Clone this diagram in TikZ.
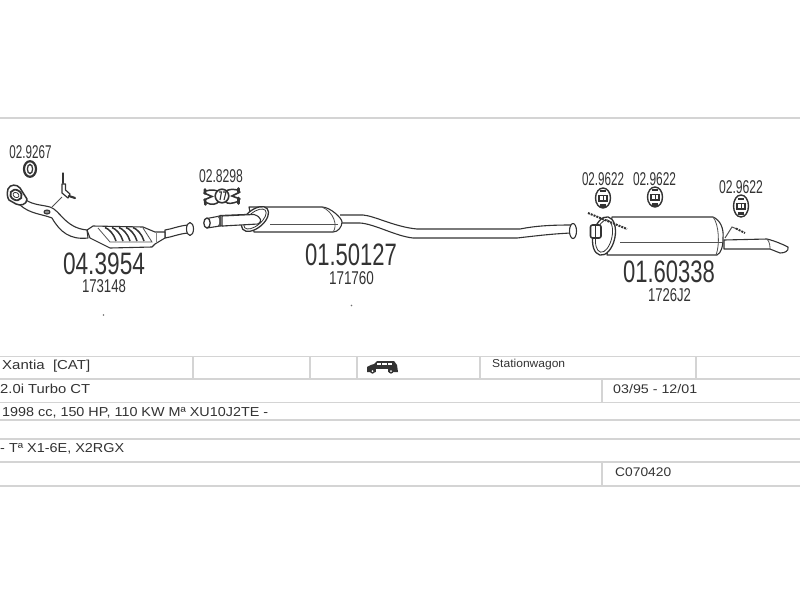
\documentclass[tikz,border=0pt]{standalone}
\usepackage{fontspec}
\setmainfont{Liberation Sans}
\newcommand{\fitw}[3]{\resizebox{#1pt}{\height}{\fontsize{#2}{#2}\selectfont #3}}
\definecolor{ink}{HTML}{333333}
\definecolor{rule}{HTML}{D4D4D4}
\tikzset{
  rulel/.style={draw=rule,line width=1.8pt},
  rulet/.style={draw=rule,line width=1.2pt},
  lab/.style={inner sep=0pt,anchor=base,text=ink},
  cell/.style={inner sep=0pt,anchor=base west,text=ink},
  pipe/.style={draw=ink,line width=1.1pt,fill=white,line join=round},
  thin pipe/.style={draw=ink!85,line width=0.8pt},
  dark/.style={draw=ink,line width=1.6pt,line cap=round},
  rod/.style={draw=ink,line width=2pt,dash pattern=on 2pt off 1pt},
  rubber/.style={draw=ink,line width=1.4pt,fill=white},
  speck/.style={fill=ink!70,draw=none}
}
\begin{document}
\begin{tikzpicture}[x=1pt,y=-1pt]
\useasboundingbox (0,0) rectangle (800,600);
\fill[white] (0,0) rectangle (800,600);

% frame and table rules
\draw[rule,line width=2pt] (0,118) -- (800,118);
\foreach \yy in {356.5,402.5,420,462,486}{\draw[rulel] (0,\yy) -- (800,\yy);}
\foreach \yy in {379,439}{\draw[rulet] (0,\yy) -- (800,\yy);}
\foreach \xx in {193,310,357,480,696}{\draw[rulet] (\xx,356.5) -- (\xx,379);}
\draw[rulet] (602,379) -- (602,402.5);
\draw[rulet] (602,462) -- (602,486);

% table text
\node[cell] (t1) at (2,369.5) {\fitw{88}{13}{Xantia\ \ [CAT]}};
\node[cell] (t2) at (0,393) {\fitw{90}{13}{2.0i Turbo CT}};
\node[cell] (t3) at (2,416) {\fitw{266}{13}{1998 cc, 150 HP, 110 KW Mª XU10J2TE -}};
\node[cell] (t4) at (0,452.5) {\fitw{124}{13}{- Tª X1-6E, X2RGX}};
\node[cell] (t5) at (492,367.5) {\fitw{73}{11.5}{Stationwagon}};
\node[cell] (t6) at (613,393) {\fitw{84}{12.5}{03/95 - 12/01}};
\node[cell] (t7) at (615,476) {\fitw{56}{12.5}{C070420}};

% van icon
\fill[ink] (367,372) -- (367,367) .. controls (369,365) and (372,365) .. (374,364) -- (377,361) -- (394,361) -- (397,365) -- (398,372) -- cycle;
\fill[white] (376.5,362.5) rectangle (381,365);
\fill[white] (382,362.5) rectangle (386.5,365);
\fill[white] (387.5,362.5) rectangle (392,365);
\fill[white] (376,368.5) rectangle (388,373);
\fill[ink] (372.5,371) circle (2.6);
\fill[ink] (391,371) circle (2.6);
\fill[white] (372.5,371) circle (1);
\fill[white] (391,371) circle (1);

% ---------- front part: gasket, flange, pipe, catalyst
\draw[rubber,line width=2.2pt] (30,169) ellipse (6 and 7.8);
\draw[ink,line width=1.3pt] (30,169) ellipse (2.6 and 4.6);

% exhaust pipe to catalyst
\draw[pipe] (26,200) .. controls (33,205) and (43,205) .. (50,207)
  .. controls (60,210) and (65,228) .. (87,230) -- (88,238)
  .. controls (70,240) and (60,232) .. (52,218)
  .. controls (42,214) and (30,214) .. (20,205) -- cycle;
\draw[pipe,fill=ink!55] (47,212) ellipse (3 and 2);
% flange
\draw[pipe,line width=1.5pt] (8,189) .. controls (10,184) and (17,184) .. (20,188)
  -- (27,199) .. controls (27,205) and (20,206) .. (16,204) -- (9,200) .. controls (7,197) and (7,193) .. (8,189) -- cycle;
\draw[ink,line width=1.8pt,rotate around={-30:(16,195)}] (16,195) ellipse (6 and 5);
\draw[ink,line width=0.8pt,rotate around={-30:(16,195)}] (16,195) ellipse (3.2 and 2.4);

% sensor
\draw[thin pipe] (52,207) -- (62,197);
\draw[dark,line width=2.8pt] (63,173.5) -- (63,183);
\draw[pipe,line width=1.2pt] (62,184) -- (62,193) -- (68,198) -- (70,194) -- (65.5,190) -- (65.5,184) -- cycle;
\draw[dark,line width=2.2pt] (69,196) -- (75,198);

% catalyst
\draw[pipe] (165,230) .. controls (172,229) and (178,226) .. (188,225) -- (188,233) .. controls (178,234) and (172,237) .. (165,238) -- cycle;
\draw[pipe] (190,229) ellipse (3.5 and 6.5);
\draw[pipe] (87,230) -- (93,226) -- (143,227) -- (155,232) -- (165,232) -- (165,238) -- (155,244) -- (152,247) -- (110,248) -- (90,238) -- cycle;
\draw[thin pipe] (98,228) -- (110,242) -- (152,242) -- (143,228);
\foreach \xx in {105,112,119,126,133}{
  \draw[ink,line width=1.5pt] (\xx,227.5) .. controls (\xx+4,229) and (\xx+9,234) .. (\xx+11,241);
}
\draw[ink!60,line width=0.8pt] (156,232) -- (156,243);

% ---------- clamp
\draw[ink,line width=1.5pt] (206,191) .. controls (212,189) and (216,190) .. (219,192);
\draw[ink,line width=1.5pt] (225,192) .. controls (228,189) and (232,189) .. (238,190);
\draw[ink,line width=1.5pt] (206,202.5) .. controls (212,205.5) and (216,204.5) .. (219,201.5);
\draw[ink,line width=1.5pt] (225,201.5) .. controls (228,204.5) and (232,203.5) .. (238,201.5);
\draw[dark,line width=2.6pt] (205,189.5) -- (205,193.5) (205,199.5) -- (205.5,204.5);
\draw[dark,line width=2.6pt] (238.5,188.5) -- (238.5,192) (238.5,198) -- (238.5,203.5);
\draw[dark,line width=1.6pt] (204,193) -- (212,196.5) -- (204,200);
\draw[dark,line width=1.6pt] (240,192) -- (232,196) -- (240,199);
\draw[rubber,line width=1.6pt] (222,196) circle (6.8);
\draw[ink,line width=1.1pt] (219,192) -- (221.5,192) -- (220,200) (223,192) -- (226,192) -- (224,200);

% ---------- middle pipe and silencer
\draw[pipe] (340,215) -- (363,215) .. controls (375,216) and (395,227) .. (417,229)
  -- (520,229) .. controls (535,226) and (550,225) .. (571,225)
  -- (571,233) .. controls (550,234) and (535,236) .. (517,238)
  -- (413,238) .. controls (395,236) and (375,224) .. (360,223) -- (340,223);
\draw[pipe] (573,231) ellipse (3.5 and 7.5);
\draw[pipe] (220,215.5) -- (258,214) -- (258,223) -- (220,226) -- cycle;
\draw[pipe] (207,218.5) -- (220,216) -- (220,226) -- (207,228) -- cycle;
\draw[pipe,line width=1.3pt] (207,223) ellipse (3.2 and 5);
\draw[thin pipe,line width=1.1pt] (218,216) .. controls (221,219) and (221,224) .. (218,226.5);
\draw[pipe] (249,207) -- (322,207) .. controls (330,207) and (342,218) .. (342,222)
  .. controls (342,227) and (338,232) .. (333,232) -- (254,232) -- cycle;
\draw[thin pipe] (270,224) -- (338,224);
\draw[thin pipe] (322,207) .. controls (334,212) and (338,226) .. (333,232);
\draw[pipe,line width=1.3pt,rotate around={40:(255,219)}] (255,219) ellipse (16 and 9);
\draw[pipe,line width=0.8pt,fill=none,rotate around={40:(255,219)}] (255,219) ellipse (13.5 and 6.5);
\draw[pipe] (222,216) -- (254,214.5) .. controls (262,217) and (262,222) .. (258,224) -- (222,226) -- cycle;

% ---------- pipe end and rear silencer
\draw[pipe] (724,240) -- (767,239) .. controls (775,241) and (782,244) .. (788,247)
  .. controls (789,251) and (785,253) .. (780,253) -- (770,249) -- (724,249) -- cycle;
\draw[thin pipe] (767,239) .. controls (770,242) and (770,247) .. (770,249);
\draw[pipe] (612,217) -- (713,217) .. controls (720,220) and (724,228) .. (723,238)
  .. controls (723,247) and (721,253) .. (717,255) -- (607,255) -- cycle;
\draw[thin pipe] (620,242) -- (722,242);
\draw[thin pipe] (713,217) .. controls (719,224) and (720,245) .. (716,255);
\draw[pipe,line width=1.3pt,rotate around={-12:(604,236)}] (604,236) ellipse (11 and 19.5);
\draw[pipe,line width=0.8pt,fill=none,rotate around={-12:(604,236)}] (604,236) ellipse (8 and 16.5);
\draw[rod] (588,213) -- (627,229);
\draw[thin pipe,line width=1pt] (725,238) -- (732,227) -- (737,229);
\draw[rod] (736,228.5) -- (745,233);
\draw[pipe,line width=1.6pt,rounded corners=2pt] (590.5,225) rectangle (601,238);
\draw[ink,line width=1.1pt] (595.5,226) -- (595.5,237);

% rear rubber hangers
\draw[rubber] (603,198) ellipse (7.5 and 10);
\draw[rubber] (655,197) ellipse (7.5 and 10);
\draw[rubber] (741,206) ellipse (7.5 and 11);
\foreach \cx/\cy in {603/198,655/197,741/206}{
  \draw[ink,line width=1.1pt] (\cx-4,\cy-2.5) rectangle (\cx+4,\cy+3);
  \draw[ink,line width=0.8pt] (\cx,\cy-2.5) -- (\cx,\cy+3);
  \fill[ink] (\cx-3,\cy-8.5) rectangle (\cx+3,\cy-6);
  \fill[ink] (\cx-3,\cy+6) rectangle (\cx+3,\cy+8.5);
}

% specks
\fill[speck] (103.5,315) circle (0.9);
\fill[speck] (351.5,305.5) circle (0.9);

% part labels
\node[lab] (a1) at (30.5,158.5) {\fitw{42}{18.5}{02.9267}};
\node[lab] (a2) at (221,182.5) {\fitw{44}{18.5}{02.8298}};
\node[lab] (a3) at (603,185.5) {\fitw{42}{18.5}{02.9622}};
\node[lab] (a4) at (654.5,185.5) {\fitw{43}{18.5}{02.9622}};
\node[lab] (a5) at (741,193.5) {\fitw{44}{18.5}{02.9622}};
\node[lab] (b1) at (104,274.5) {\fitw{82}{31}{04.3954}};
\node[lab] (b2) at (351,265) {\fitw{92}{31}{01.50127}};
\node[lab] (b3) at (669,282) {\fitw{92}{31}{01.60338}};
\node[lab] (c1) at (104,292) {\fitw{44}{18.5}{173148}};
\node[lab] (c2) at (351.5,284) {\fitw{45}{18.5}{171760}};
\node[lab] (c3) at (669.5,301) {\fitw{43}{18.5}{1726J2}};
\end{tikzpicture}
\end{document}
